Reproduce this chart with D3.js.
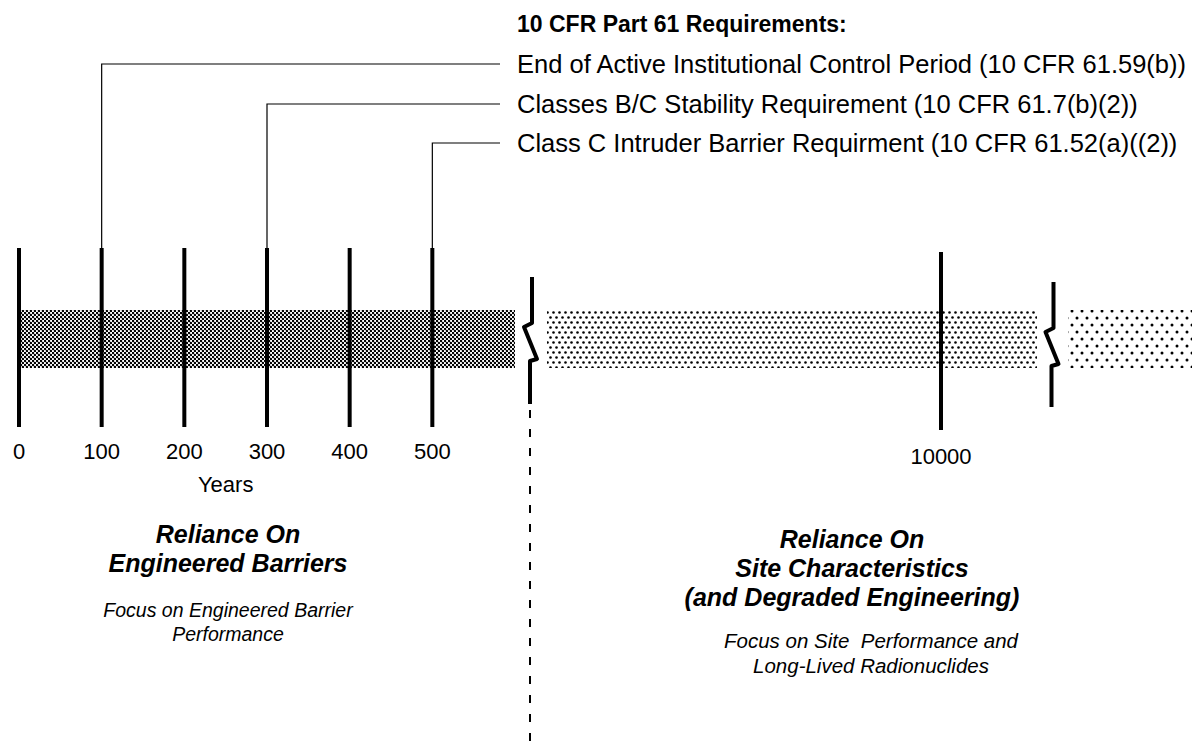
<!DOCTYPE html>
<html><head><meta charset="utf-8">
<script src="https://cdn.jsdelivr.net/npm/d3@7"></script>
<style>body{margin:0;background:#fff}svg{display:block}text{font-family:"Liberation Sans",Arial,Helvetica,sans-serif;fill:#000;white-space:pre}</style>
</head><body><svg id="c" width="1198" height="751"></svg>
<script>
// ---- data ----
const nearTicks = [0, 100, 200, 300, 400, 500];
const farTicks = [10000];
const breaks = [800, 12600];
const bandStarts = [0, 1000, 13000];
const bandEnds = [600, 12200, 15000];
const bandPatterns = ["dense", "medium", "sparse"];
const reqYears = [100, 300, 500];
const reqLabels = [
  "End of Active Institutional Control Period (10 CFR 61.59(b))",
  "Classes B/C Stability Requirement (10 CFR 61.7(b)(2))",
  "Class C Intruder Barrier Requirment (10 CFR 61.52(a)((2))"
];
const reqTitle = "10 CFR Part 61 Requirements:";
const axisTitle = "Years";
const leftHead = ["Reliance On", "Engineered Barriers"];
const leftSub = ["Focus on Engineered Barrier", "Performance"];
const rightHead = ["Reliance On", "Site Characteristics", "(and Degraded Engineering)"];
const rightSub = ["Focus on Site  Performance and", "Long-Lived Radionuclides"];

// ---- layout ----
const svg = d3.select("#c");
const x = d3.scaleLinear()
  .domain([0, 600, 1000, 10000, 12200, 13000, 15000])
  .range([19, 515, 547, 941, 1037, 1068, 1192]);
const bandTop = 310, bandBot = 368;

// patterns
const defs = svg.append("defs");
function pat(id, w, h, dots, r) {
  const p = defs.append("pattern").attr("id", id).attr("patternUnits", "userSpaceOnUse")
    .attr("width", w).attr("height", h);
  p.append("rect").attr("width", w).attr("height", h).attr("fill", "#fff");
  dots.forEach(d => p.append("circle").attr("cx", d[0]).attr("cy", d[1]).attr("r", r).attr("fill", "#000"));
}
pat("dense", 4, 4, [[1, 1], [3, 3]], 1.25);
pat("medium", 6, 10, [[1.5, 2.5], [4.5, 7.5]], 1.3);
pat("sparse", 10, 14, [[2, 3], [7, 10]], 1.5);

// bands
svg.selectAll("rect.band").data(bandStarts).join("rect").attr("class", "band")
  .attr("x", (d, i) => x(d)).attr("width", (d, i) => x(bandEnds[i]) - x(d))
  .attr("y", bandTop).attr("height", bandBot - bandTop)
  .attr("fill", (d, i) => `url(#${bandPatterns[i]})`);

// near ticks
svg.selectAll("line.tick").data(nearTicks).join("line").attr("class", "tick")
  .attr("x1", d => x(d)).attr("x2", d => x(d)).attr("y1", 248).attr("y2", 427)
  .attr("stroke", "#000").attr("stroke-width", 4);
svg.selectAll("line.ftick").data(farTicks).join("line").attr("class", "ftick")
  .attr("x1", d => x(d)).attr("x2", d => x(d)).attr("y1", 252).attr("y2", 430)
  .attr("stroke", "#000").attr("stroke-width", 4);

// tick labels
svg.selectAll("text.tl").data(nearTicks).join("text").attr("class", "tl")
  .attr("x", d => x(d)).attr("y", 459).attr("text-anchor", "middle")
  .attr("font-size", 22).text(d => d);
svg.selectAll("text.ftl").data(farTicks).join("text").attr("class", "ftl")
  .attr("x", d => x(d)).attr("y", 464).attr("text-anchor", "middle")
  .attr("font-size", 22).text(d => d);
svg.append("text").attr("x", (x(200) + x(300)) / 2).attr("y", 492).attr("text-anchor", "middle")
  .attr("font-size", 22).text(axisTitle);

// breaks
const breakTop = [277, 282], breakBot = [404, 407];
breaks.forEach((b, i) => {
  const bx = x(b);
  const top = breakTop[i], bot = breakBot[i];
  const pts = [[bx + 1, top], [bx + 1, top + 46], [bx - 7, top + 50], [bx + 6, top + 82], [bx - 1, top + 84], [bx - 1, bot]];
  svg.append("path").attr("d", d3.line()(pts)).attr("fill", "none")
    .attr("stroke", "#000").attr("stroke-width", 4).attr("stroke-linejoin", "round");
});
// dashed divider
svg.append("line").attr("x1", x(breaks[0]) - 1).attr("x2", x(breaks[0]) - 1)
  .attr("y1", 410).attr("y2", 748).attr("stroke", "#000").attr("stroke-width", 2)
  .attr("stroke-dasharray", "8,11");

// requirement leaders
const leaderY = [64, 104, 143];
const textX = 517, leaderEnd = 500;
reqYears.forEach((yr, i) => {
  const lx = x(yr);
  svg.append("path").attr("d", d3.line()([[lx, 248], [lx, leaderY[i]], [leaderEnd, leaderY[i]]]))
    .attr("fill", "none").attr("stroke", "#000").attr("stroke-width", 1.2);
  svg.append("text").attr("x", textX).attr("y", leaderY[i] + 9).attr("font-size", 25.5).text(reqLabels[i]);
});
svg.append("text").attr("x", textX).attr("y", 32).attr("font-size", 23).attr("font-weight", "bold").text(reqTitle);

// region texts
function lines(arr, cx, y0, dy, size, weight) {
  arr.forEach((t, i) => svg.append("text").attr("x", cx).attr("y", y0 + i * dy)
    .attr("text-anchor", "middle").attr("font-size", size).attr("font-weight", weight)
    .attr("font-style", "italic").text(t));
}
lines(leftHead, 228, 543, 29, 25, "bold");
lines(leftSub, 228, 617, 24, 19.5, "normal");
lines(rightHead, 852, 548, 29, 25, "bold");
lines(rightSub, 871, 648, 25, 20.5, "normal");
</script></body></html>
